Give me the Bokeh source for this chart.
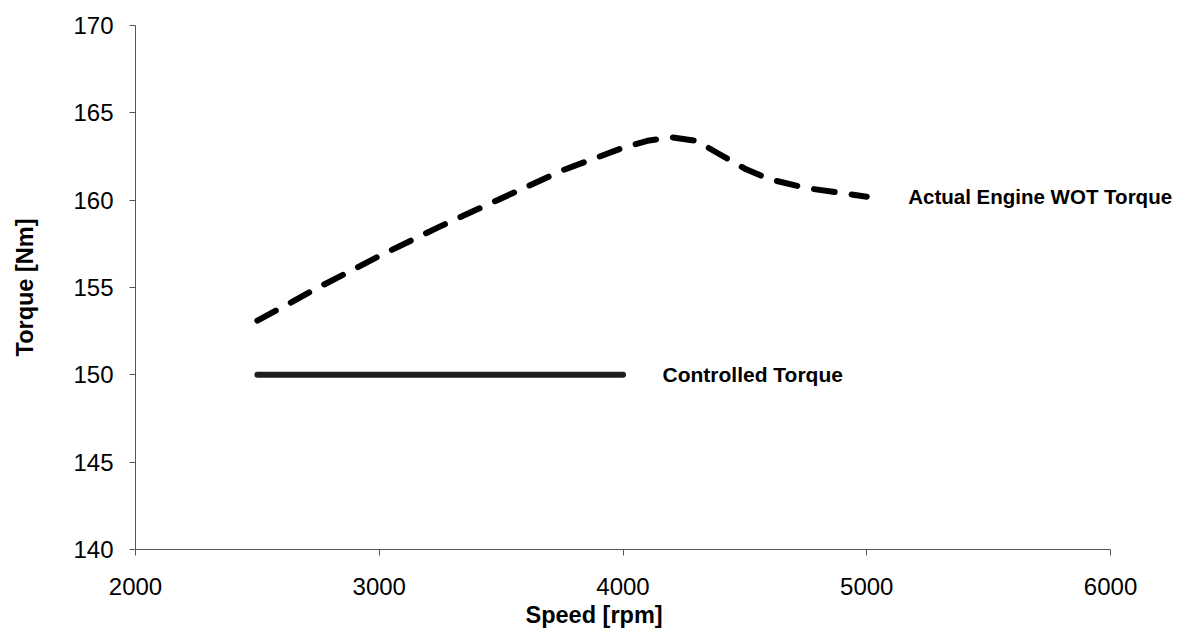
from bokeh.plotting import figure
from bokeh.models import Range1d, FixedTicker, Label, Title
from bokeh.embed import file_html
from bokeh.resources import INLINE

# Data
wot_speed = [2500, 2750, 3000, 3250, 3500, 3750, 4000, 4100, 4200, 4300, 4400, 4500, 4600, 4750, 5000]
wot_torque = [153.1, 155.0, 156.8, 158.5, 160.1, 161.7, 163.0, 163.4, 163.6, 163.4, 162.6, 161.8, 161.2, 160.7, 160.2]

ctrl_speed = [2500, 4000]
ctrl_torque = [150.0, 150.0]

x_ticks = [2000, 3000, 4000, 5000, 6000]
y_ticks = [140, 145, 150, 155, 160, 165, 170]

wot_label = "Actual Engine WOT Torque"
ctrl_label = "Controlled Torque"

FONT = "Liberation Sans"

# frame extends to the right of 6000 so the annotation is not clipped;
# the axis line itself stops at 6000 (bounds)
p = figure(width=1185, height=635, output_backend="svg", toolbar_location=None,
           x_range=Range1d(2000, 6287), y_range=Range1d(140, 170),
           min_border_left=135, min_border_right=5, min_border_top=25, min_border_bottom=86)

p.outline_line_color = None
p.xgrid.grid_line_color = None
p.ygrid.grid_line_color = None
p.background_fill_color = "white"
p.border_fill_color = "white"

p.line(wot_speed, wot_torque, line_color="black", line_width=6, line_dash="21 17", line_cap="round")
p.line(ctrl_speed, ctrl_torque, line_color="#1e1e1e", line_width=6, line_cap="round")

p.add_layout(Label(x=5170, y=wot_torque[-1], text=wot_label, text_font=FONT, text_font_style="bold",
                   text_font_size="20.5px", text_baseline="middle", text_color="black"))
p.add_layout(Label(x=4162, y=ctrl_torque[-1], text=ctrl_label, text_font=FONT, text_font_style="bold",
                   text_font_size="21px", text_baseline="middle", text_color="black"))

for ax in (p.xaxis[0], p.yaxis[0]):
    ax.axis_line_color = "#555555"
    ax.axis_line_width = 1
    ax.major_tick_line_color = "#555555"
    ax.major_tick_in = 0
    ax.major_tick_out = 6
    ax.minor_tick_line_color = None
    ax.major_label_text_font = FONT
    ax.major_label_text_font_size = "24px"
    ax.major_label_text_color = "black"
    ax.axis_label_text_font = FONT
    ax.axis_label_text_font_style = "bold"
    ax.axis_label_text_font_size = "23.5px"
    ax.axis_label_text_color = "black"

p.xaxis[0].bounds = (2000, 6000)
p.xaxis[0].ticker = FixedTicker(ticks=x_ticks)
p.yaxis[0].ticker = FixedTicker(ticks=y_ticks)
p.yaxis[0].axis_label = "Torque [Nm]"
p.xaxis[0].major_label_standoff = 22
p.yaxis[0].major_label_standoff = 16
p.yaxis[0].axis_label_standoff = 32

# x-axis title, positioned under the 2000-6000 axis span as in the reference
xtitle = Title(text="Speed [rpm]", align="left", offset=390, standoff=4,
               text_font=FONT, text_font_style="bold", text_font_size="23.5px",
               text_color="black")
p.add_layout(xtitle, "below")

open("out.html", "w").write(file_html(p, INLINE))
